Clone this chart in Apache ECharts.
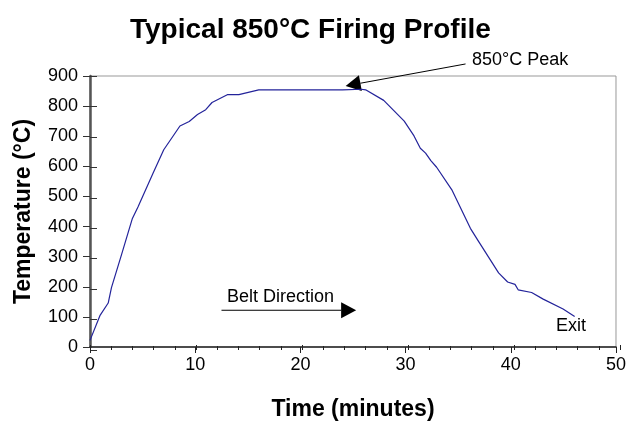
<!DOCTYPE html>
<html><head><meta charset="utf-8">
<script src="https://cdn.jsdelivr.net/npm/echarts@6/dist/echarts.min.js"></script>
<style>html,body{margin:0;padding:0;background:#fff}#c{width:629px;height:426px}</style>
</head><body><div id="c"></div>
<script>
const timeMin = [0, 0.94, 1.73, 2.04, 2.99, 4.03, 4.56, 5.97, 7.01, 8.55, 9.43, 10.22, 11.0, 11.6, 13.05, 14.15, 16.04, 20, 24, 25.8, 26.2, 27.92, 29.87, 30.8, 31.4, 31.9, 32.4, 32.95, 34.43, 36.16, 36.95, 38.84, 39.7, 40.4, 40.7, 41.98, 43.08, 44.97, 46.07];
const tempC = [22, 104, 146, 197, 306, 427, 465, 575, 655, 734, 749, 772, 788, 812, 838, 838, 854, 854, 854, 856, 854, 819, 750, 701, 660, 644, 619, 597, 520, 394, 350, 246, 216, 208, 190, 181, 159, 126, 101];
const xTicks = [0, 10, 20, 30, 40, 50];
const yTicks = [0, 100, 200, 300, 400, 500, 600, 700, 800, 900];
const peakArrow = [[35.7, 940], [24.3, 867]];
const beltArrow = [[12.5, 122], [25.3, 122]];

const FONT = '"Liberation Sans", Arial, sans-serif';
const gridRect = {left: 90, right: 9, top: 76, bottom: 76};
const chart = echarts.init(document.getElementById('c'), null, {renderer: 'canvas'});
chart.setOption({
  animation: false,
  backgroundColor: '#fff',
  title: {text: 'Typical 850°C Firing Profile', left: 125, top: 11,
    textStyle: {fontFamily: FONT, fontSize: 28, fontWeight: 'bold', color: '#000'}},
  grid: [
    Object.assign({show: true, borderColor: '#999', borderWidth: 1}, gridRect),
    Object.assign({show: false}, gridRect)
  ],
  xAxis: [
    {type: 'value', gridIndex: 0, min: xTicks[0], max: xTicks[xTicks.length - 1], interval: 10,
     name: 'Time (minutes)', nameLocation: 'middle', nameGap: 51,
     nameTextStyle: {fontFamily: FONT, fontSize: 23, fontWeight: 'bold', color: '#000'},
     axisLine: {show: true, lineStyle: {color: '#222', width: 1.5}},
     axisTick: {show: true, inside: false, length: 6, lineStyle: {color: '#222'}},
     axisLabel: {fontFamily: FONT, fontSize: 18, color: '#000', margin: 9},
     splitLine: {show: false}},
    {type: 'value', gridIndex: 1, min: xTicks[0], max: xTicks[xTicks.length - 1], interval: 10,
     axisLine: {show: false},
     axisTick: {show: true, inside: true, length: 5, lineStyle: {color: '#222'}},
     minorTick: {show: true, splitNumber: 5, length: 4, lineStyle: {color: '#222'}},
     axisLabel: {show: false}, splitLine: {show: false}}
  ],
  yAxis: [
    {type: 'value', gridIndex: 0, min: yTicks[0], max: yTicks[yTicks.length - 1], interval: 100,
     name: 'Temperature (°C)', nameLocation: 'middle', nameGap: 55,
     nameTextStyle: {fontFamily: FONT, fontSize: 23, fontWeight: 'bold', color: '#000'},
     axisLine: {show: true, lineStyle: {color: '#555', width: 2.5}},
     axisTick: {show: true, inside: false, length: 7, lineStyle: {color: '#333'}},
     axisLabel: {fontFamily: FONT, fontSize: 18, color: '#000', margin: 12},
     splitLine: {show: false}},
    {type: 'value', gridIndex: 1, min: yTicks[0], max: yTicks[yTicks.length - 1], interval: 100,
     axisLine: {show: false},
     axisTick: {show: true, inside: true, length: 7, lineStyle: {color: '#333'}},
     axisLabel: {show: false}, splitLine: {show: false}}
  ],
  series: [{
    type: 'line', xAxisIndex: 0, yAxisIndex: 0,
    data: timeMin.map((t, i) => [t, tempC[i]]),
    showSymbol: false, symbol: 'none',
    lineStyle: {color: '#23239a', width: 1.2},
    clip: false
  }]
});

function arrowGraphics(pts) {
  const a = chart.convertToPixel({gridIndex: 0}, pts[0]);
  const b = chart.convertToPixel({gridIndex: 0}, pts[1]);
  const dx = b[0] - a[0], dy = b[1] - a[1];
  const len = Math.sqrt(dx * dx + dy * dy);
  const ux = dx / len, uy = dy / len;
  const headL = 15, headW = 8;
  const bx = b[0] - ux * headL, by = b[1] - uy * headL;
  return [
    {type: 'line', shape: {x1: a[0], y1: a[1], x2: bx, y2: by}, style: {stroke: '#000', lineWidth: 1}},
    {type: 'polygon', shape: {points: [[b[0], b[1]], [bx - uy * headW, by + ux * headW], [bx + uy * headW, by - ux * headW]]}, style: {fill: '#000'}}
  ];
}

chart.setOption({
  graphic: [
    ...arrowGraphics(peakArrow),
    ...arrowGraphics(beltArrow),
    {type: 'text', left: 472, top: 51, style: {text: '850°C Peak', font: '18px ' + FONT, fill: '#000'}},
    {type: 'text', left: 227, top: 288, style: {text: 'Belt Direction', font: '18px ' + FONT, fill: '#000'}},
    {type: 'text', left: 556, top: 317, style: {text: 'Exit', font: '18px ' + FONT, fill: '#000'}}
  ]
});
</script></body></html>
